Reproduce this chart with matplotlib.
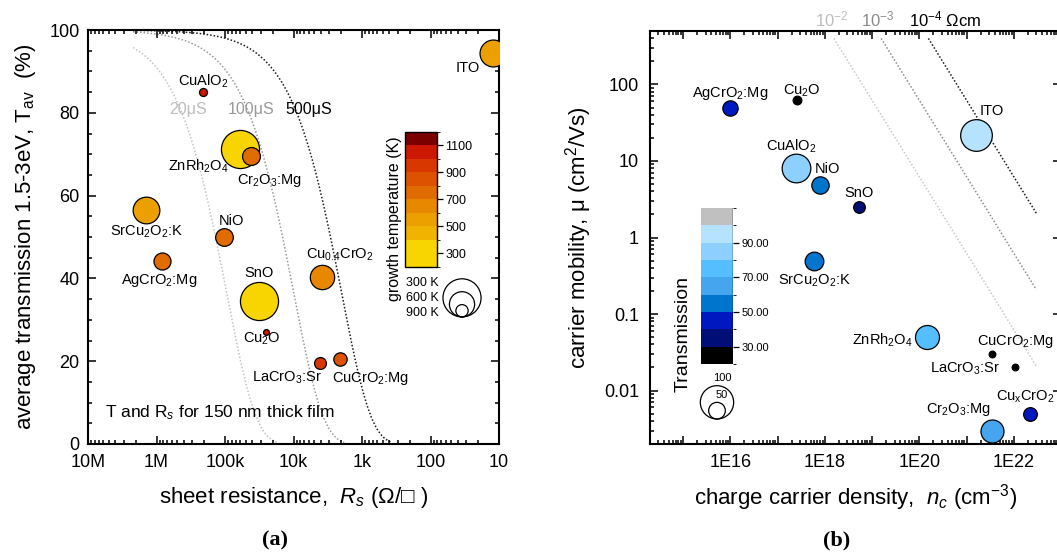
import numpy as np
import matplotlib
matplotlib.use("Agg")
import matplotlib.pyplot as plt
from matplotlib.colors import ListedColormap, BoundaryNorm
from matplotlib.cm import ScalarMappable
from matplotlib.ticker import FixedLocator, FixedFormatter, LogLocator, NullFormatter, MultipleLocator

plt.rcParams['font.family'] = ['Liberation Sans', 'DejaVu Sans']
plt.rcParams['mathtext.fontset'] = 'custom'
plt.rcParams['mathtext.rm'] = 'Liberation Sans'
plt.rcParams['mathtext.it'] = 'Liberation Sans:italic'
plt.rcParams['mathtext.bf'] = 'Liberation Sans:bold'

# ---- panel (a): transmission vs sheet resistance
labels_a = ["ITO", "CuAlO$_2$", "ZnRh$_2$O$_4$", "Cr$_2$O$_3$:Mg", "SrCu$_2$O$_2$:K", "NiO",
            "AgCrO$_2$:Mg", "Cu$_{0.4}$CrO$_2$", "SnO", "Cu$_2$O", "LaCrO$_3$:Sr", "CuCrO$_2$:Mg"]
sheet_res = [12.3, 2.1e5, 6.0e4, 4.2e4, 1.4e6, 1.05e5, 8.3e5, 3.8e3, 3.2e4, 2.5e4, 4.1e3, 2.1e3]
trans_av = [94.4, 85.0, 71.3, 69.6, 56.5, 50.0, 44.2, 40.3, 34.5, 27.0, 19.6, 20.5]
growth_temp = [560, 1000, 300, 770, 565, 775, 790, 620, 300, 1050, 910, 875]
# label offsets (px, y up) from the point centre
offs_a = [(-25, -15), (0, 11), (-42, -17), (19, -25), (0, -22), (8, 16),
          (-3, -19), (18, 22), (0, 28), (-4, -7), (-33, -15), (31, -19)]

# figure-of-merit curves  T = exp(-1/(phi*Rs)); the "20uS" curve sits near 10.5 uS in the reference
fom_labels = ["20μS", "100μS", "500μS"]
fom_phi = [10.5e-6, 100e-6, 500e-6]
fom_colors = ["#c4c4c4", "#9a9a9a", "#1a1a1a"]

temp_bounds = [200, 400, 500, 600, 700, 800, 900, 1000, 1100, 1200]
temp_colors = ["#f8d400", "#f0b400", "#eba000", "#e88800", "#e06c00",
               "#dc5200", "#d83800", "#cc1800", "#7a0000"]
temp_ticks = [300, 500, 700, 900, 1100]
temp_legend = [300, 600, 900]

rs_ticks = [1e7, 1e6, 1e5, 1e4, 1e3, 1e2, 1e1]
rs_ticklabels = ["10M", "1M", "100k", "10k", "1k", "100", "10"]

# ---- panel (b): mobility vs carrier density
labels_b = ["AgCrO$_2$:Mg", "Cu$_2$O", "CuAlO$_2$", "NiO", "SnO", "ITO", "SrCu$_2$O$_2$:K",
            "ZnRh$_2$O$_4$", "CuCrO$_2$:Mg", "LaCrO$_3$:Sr", "Cr$_2$O$_3$:Mg", "Cu$_\\mathrm{x}$CrO$_2$"]
carrier_n = [1.0e16, 2.6e17, 2.5e17, 8.0e17, 5.2e18, 1.56e21, 6.0e17, 1.43e20, 3.4e21, 1.05e22, 3.4e21, 2.2e22]
mobility = [49, 62, 8.0, 4.9, 2.5, 21.8, 0.49, 0.05, 0.03, 0.02, 0.003, 0.005]
trans_b = [46, 26, 86, 52, 35, 95, 56, 72, 20, 20, 69, 41]
offs_b = [(0, 15), (5, 10), (-5, 22), (7, 16), (0, 14), (16, 24), (0, -20),
          (-44, -3), (24, 13), (-50, -1), (-33, 21), (-5, 17)]

rho_values = [1e-2, 1e-3, 1e-4]
rho_labels = ["10$^{-2}$", "10$^{-3}$", "10$^{-4}$ Ωcm"]
rho_colors = ["#c8c8c8", "#8c8c8c", "#1a1a1a"]

tr_bounds = [20, 30, 40, 50, 60, 70, 80, 90, 100, 110]
tr_colors = ["#000000", "#000e78", "#0018c0", "#0075ce", "#45a5ee",
             "#55beff", "#8dd0ff", "#b5e3ff", "#c0c0c0"]
tr_ticks = [30, 50, 70, 90]
tr_legend = [100, 50]

PX = 0.72  # points per pixel at dpi 100
E_CHARGE = 1.602e-19


def r_temp(t):
    return 25.5 - 0.0215 * np.asarray(t, dtype=float)


def r_trans(t):
    return np.asarray(t, dtype=float) / 6.0


def style_axes(ax):
    ax.tick_params(which='both', direction='in', top=True, right=True, width=1.1)
    ax.tick_params(which='major', length=6, labelsize=13)
    ax.tick_params(which='minor', length=3)
    ax.tick_params(axis='x', pad=7)
    ax.tick_params(axis='y', pad=6)
    for s in ax.spines.values():
        s.set_linewidth(1.5)


fig = plt.figure(figsize=(10.57, 5.53), dpi=100)
W, H = 1057, 553

# ================= panel (a)
axa = fig.add_axes([88 / W, 1 - 444 / H, 411 / W, 414 / H])
cmap_t = ListedColormap(temp_colors)
norm_t = BoundaryNorm(temp_bounds, cmap_t.N)

for phi, col in zip(fom_phi, fom_colors):
    rs = np.logspace(np.log10(2.2e6), np.log10(1 / phi / 5.5), 300)
    axa.plot(rs, 100 * np.exp(-1 / (phi * rs)), ls=(0, (1, 1.3)), lw=1.1, color=col, zorder=1)

order = np.argsort(-r_temp(growth_temp))
for i in order:
    axa.scatter(sheet_res[i], trans_av[i], s=(2 * r_temp(growth_temp[i]) * PX) ** 2,
                color=cmap_t(norm_t(growth_temp[i])), edgecolor='black', lw=0.9, zorder=3)
for i, lab in enumerate(labels_a):
    axa.annotate(lab, (sheet_res[i], trans_av[i]), xytext=(offs_a[i][0] * PX, offs_a[i][1] * PX),
                 textcoords='offset points', ha='center', va='center', fontsize=10.5, zorder=4)

axa.set_xscale('log')
axa.set_xlim(1e7, 10)
axa.set_ylim(0, 100)
axa.xaxis.set_major_locator(FixedLocator(rs_ticks))
axa.xaxis.set_major_formatter(FixedFormatter(rs_ticklabels))
axa.xaxis.set_minor_locator(LogLocator(base=10, subs=np.arange(2, 10)))
axa.xaxis.set_minor_formatter(NullFormatter())
axa.yaxis.set_major_locator(MultipleLocator(20))
axa.yaxis.set_minor_locator(MultipleLocator(5))
style_axes(axa)
axa.set_xlabel("sheet resistance,  $R_s$ (Ω/□ )", fontsize=16, labelpad=10)
axa.set_ylabel("average transmission 1.5-3eV, T$_{\\mathrm{av}}$  (%)", fontsize=16, labelpad=8)

for lab, col, xf in zip(fom_labels, ["#bdbdbd", "#999999", "#000000"], [0.243, 0.397, 0.538]):
    axa.text(xf, 0.809, lab, transform=axa.transAxes, ha='center', va='center', fontsize=11.5, color=col)
axa.text(0.041, 0.075, "T and R$_s$ for 150 nm thick film", transform=axa.transAxes,
         ha='left', va='center', fontsize=12.5)

# size legend (growth temperature)
for t, yf in zip(temp_legend, [0.389, 0.353, 0.316]):
    axa.text(0.774, yf, f"{t} K", transform=axa.transAxes, ha='left', va='center', fontsize=9)
    r = r_temp(t)
    axa.scatter(0.910, 0.307 + r / 414, s=(2 * r * PX) ** 2, transform=axa.transAxes,
                facecolor='none', edgecolor='black', lw=0.9, clip_on=False)

caxa = fig.add_axes([405 / W, 1 - 267 / H, 32 / W, 135 / H])
cba = fig.colorbar(ScalarMappable(norm=norm_t, cmap=cmap_t), cax=caxa,
                   spacing='proportional', ticks=temp_ticks)
cba.outline.set_linewidth(1.0)
caxa.tick_params(labelsize=9, length=4, width=0.9, pad=2)
fig.text(395 / W, 1 - 219 / H, "growth temperature (K)", rotation=90, ha='center', va='center', fontsize=11.5)

# ================= panel (b)
axb = fig.add_axes([650 / W, 1 - 444 / H, 411 / W, 413 / H])
cmap_tr = ListedColormap(tr_colors)
norm_tr = BoundaryNorm(tr_bounds, cmap_tr.N)

n_end = 3e22
for rho, col in zip(rho_values, rho_colors):
    n_start = 1 / (E_CHARGE * rho * 400)
    n = np.logspace(np.log10(n_start), np.log10(n_end), 100)
    axb.plot(n, 1 / (E_CHARGE * n * rho), ls=(0, (1, 1.3)), lw=1.1, color=col, zorder=1)

order = np.argsort(-r_trans(trans_b))
for i in order:
    axb.scatter(carrier_n[i], mobility[i], s=(2 * r_trans(trans_b[i]) * PX) ** 2,
                color=cmap_tr(norm_tr(trans_b[i])), edgecolor='black', lw=0.9, zorder=3)
for i, lab in enumerate(labels_b):
    axb.annotate(lab, (carrier_n[i], mobility[i]), xytext=(offs_b[i][0] * PX, offs_b[i][1] * PX),
                 textcoords='offset points', ha='center', va='center', fontsize=10.5, zorder=4,
                 annotation_clip=False)

axb.set_xscale('log')
axb.set_yscale('log')
axb.set_xlim(2e14, 1e23)
axb.set_ylim(0.002, 500)
axb.xaxis.set_major_locator(FixedLocator([10.0 ** k for k in range(15, 24)]))
axb.xaxis.set_major_formatter(FixedFormatter(["", "1E16", "", "1E18", "", "1E20", "", "1E22", ""]))
axb.xaxis.set_minor_locator(LogLocator(base=10, subs=np.arange(2, 10), numticks=20))
axb.xaxis.set_minor_formatter(NullFormatter())
axb.yaxis.set_major_locator(FixedLocator([0.01, 0.1, 1, 10, 100]))
axb.yaxis.set_major_formatter(FixedFormatter(["0.01", "0.1", "1", "10", "100"]))
axb.yaxis.set_minor_locator(LogLocator(base=10, subs=np.arange(2, 10), numticks=20))
axb.yaxis.set_minor_formatter(NullFormatter())
style_axes(axb)
axb.tick_params(axis='y', pad=8)
axb.set_xlabel("charge carrier density,  $n_c$ (cm$^{-3}$)", fontsize=16, labelpad=8)
axb.set_ylabel("carrier mobility, μ (cm$^2$/Vs)", fontsize=16, labelpad=7)

for rho, lab, col, dx, ha in zip(rho_values, rho_labels, ["#bdbdbd", "#8c8c8c", "#000000"],
                                 [-2, -3, -19], ['center', 'center', 'left']):
    axb.annotate(lab, (1 / (E_CHARGE * rho * 400), 1.0), xycoords=('data', 'axes fraction'),
                 xytext=(dx * PX, 12 * PX), textcoords='offset points', ha=ha, va='center',
                 fontsize=12, color=col, annotation_clip=False)

# size legend (transmission)
for t in tr_legend:
    r = r_trans(t)
    axb.scatter(0.163, 0.0605 + r / 413, s=(2 * r * PX) ** 2, transform=axb.transAxes,
                facecolor='none', edgecolor='black', lw=0.9, clip_on=False)
axb.text(0.175, 0.160, "100", transform=axb.transAxes, ha='center', va='center', fontsize=8)
axb.text(0.175, 0.119, "50", transform=axb.transAxes, ha='center', va='center', fontsize=8)

caxb = fig.add_axes([701 / W, 1 - 364 / H, 32 / W, 156 / H])
cbb = fig.colorbar(ScalarMappable(norm=norm_tr, cmap=cmap_tr), cax=caxb,
                   spacing='proportional', ticks=tr_ticks, format="%.2f")
cbb.outline.set_visible(False)
caxb.axvline(1, color='black', lw=1.0)
caxb.tick_params(labelsize=8, length=4, width=0.9, pad=2)
fig.text(683 / W, 1 - 334 / H, "Transmission", rotation=90, ha='center', va='center', fontsize=14)

# panel letters
fig.text(275 / W, 1 - 540 / H, "(a)", ha='center', va='center', fontsize=16,
         fontweight='bold', family='Liberation Serif')
fig.text(837 / W, 1 - 540 / H, "(b)", ha='center', va='center', fontsize=16,
         fontweight='bold', family='Liberation Serif')

fig.savefig("out.png", dpi=100)
